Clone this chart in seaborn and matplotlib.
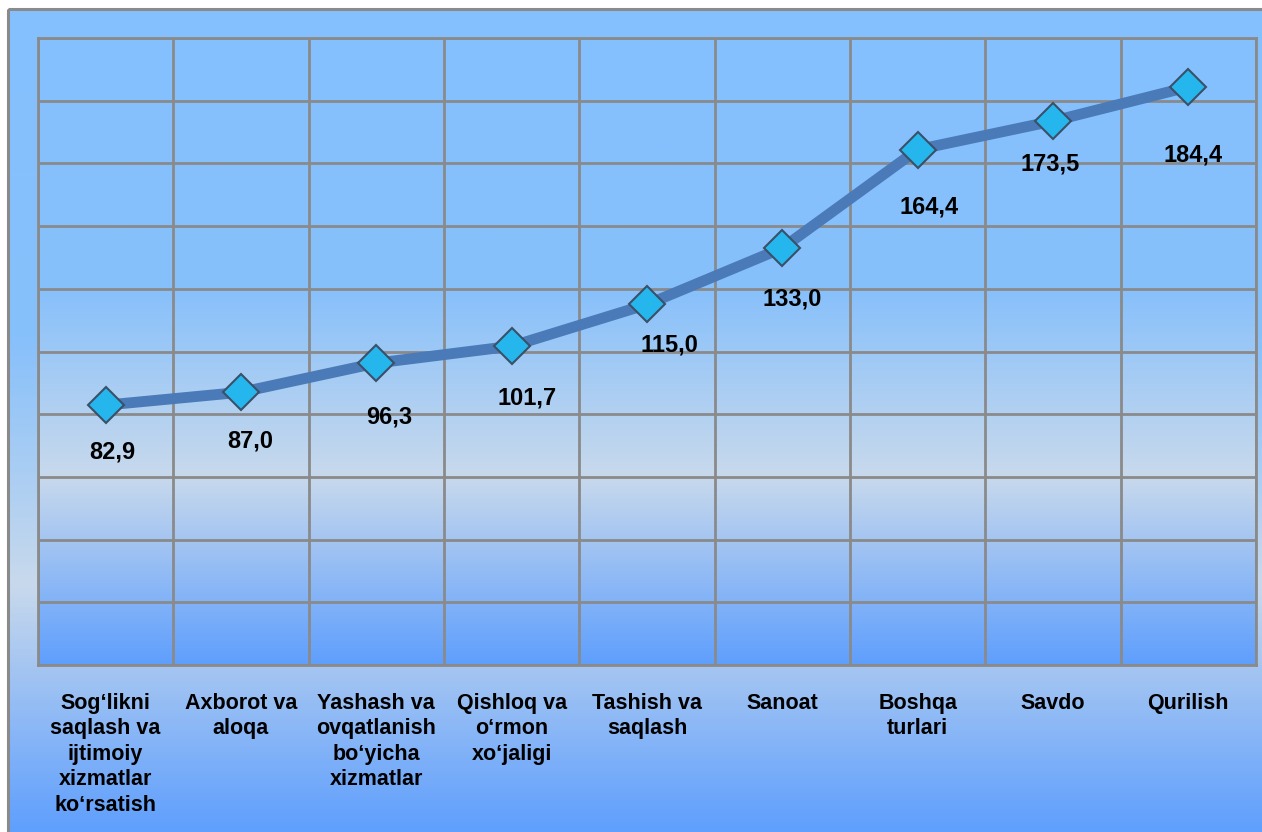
import numpy as np
import pandas as pd
import seaborn as sns
import matplotlib.pyplot as plt
from matplotlib.colors import LinearSegmentedColormap
from matplotlib.patches import Rectangle

categories = [
    "Sog\u2018likni\nsaqlash va\nijtimoiy\nxizmatlar\nko\u2018rsatish",
    "Axborot va\naloqa",
    "Yashash va\novqatlanish\nbo\u2018yicha\nxizmatlar",
    "Qishloq va\no\u2018rmon\nxo\u2018jaligi",
    "Tashish va\nsaqlash",
    "Sanoat",
    "Boshqa\nturlari",
    "Savdo",
    "Qurilish",
]
values = [82.9, 87.0, 96.3, 101.7, 115.0, 133.0, 164.4, 173.5, 184.4]

# where each data label sits relative to its point (points)
label_dx = [5, 6.5, 9.5, 11, 16.5, 7, 8.5, -2, 3.5]
label_dy = [-34, -35, -39, -37, -29, -37, -41, -31, -49]

df = pd.DataFrame({"cat": categories, "val": values})
df["pos"] = range(len(df))

sns.set_theme(style="white")
plt.rcParams["font.family"] = ["Liberation Sans", "DejaVu Sans"]

fig = plt.figure(figsize=(12.62, 8.32), dpi=100)

# chart-area gradient background
grad = LinearSegmentedColormap.from_list(
    "bg", [(0.0, "#85c0ff"), (0.40, "#87c0fb"), (0.70, "#c8d9ec"), (1.0, "#5f9ffd")])
bg = fig.add_axes([0, 0, 1, 1], zorder=-10)
bg.imshow(np.linspace(0, 1, 256).reshape(-1, 1), cmap=grad, aspect="auto",
          extent=[8, 1262, 832, 9])
bg.add_patch(Rectangle((8, 9), 1262, 832, fill=False, ec="#8a8a8a", lw=2.2))
bg.set_xlim(0, 1262)
bg.set_ylim(832, 0)
bg.axis("off")

ax = fig.add_axes([38 / 1262, 1 - 665 / 832, 1218 / 1262, 627 / 832])
ax.patch.set_visible(False)
ax.imshow(np.linspace(0, 1, 256).reshape(-1, 1), cmap=grad, aspect="auto",
          extent=[-0.5, 8.5, 0, 200], zorder=-1)

sns.lineplot(data=df, x="pos", y="val", sort=False, ax=ax, color="#4a7ab7",
             linewidth=7.8, solid_joinstyle="round", solid_capstyle="round",
             marker="D", markersize=18.5, markerfacecolor="#25b6ee",
             markeredgecolor="#3a5068", markeredgewidth=1.5, zorder=3)

for i, v in enumerate(values):
    ax.annotate(f"{v:.1f}".replace(".", ","), (i, v),
                xytext=(label_dx[i], label_dy[i]), textcoords="offset points",
                ha="center", va="center", fontsize=17, fontweight="bold",
                color="black", zorder=4)

ax.set_xlim(-0.5, 8.5)
ax.set_ylim(0, 200)
ax.set_yticks(np.arange(0, 201, 20))
ax.set_yticklabels([])
ax.set_xticks(range(len(categories)))
ax.set_xticklabels(categories, fontsize=15.5, fontweight="bold", linespacing=1.28,
                   va="top", color="black")
ax.set_xticks(np.arange(-0.5, 9, 1), minor=True)
ax.tick_params(axis="both", which="both", length=0)
ax.tick_params(axis="x", which="major", pad=20)
ax.grid(True, axis="y", which="major", color="#8a8a8a", lw=2)
ax.grid(True, axis="x", which="minor", color="#8a8a8a", lw=2)
ax.grid(False, axis="x", which="major")
ax.set_xlabel("")
ax.set_ylabel("")
for s in ax.spines.values():
    s.set_color("#8a8a8a")
    s.set_linewidth(2)

fig.savefig("out.png", dpi=100)
